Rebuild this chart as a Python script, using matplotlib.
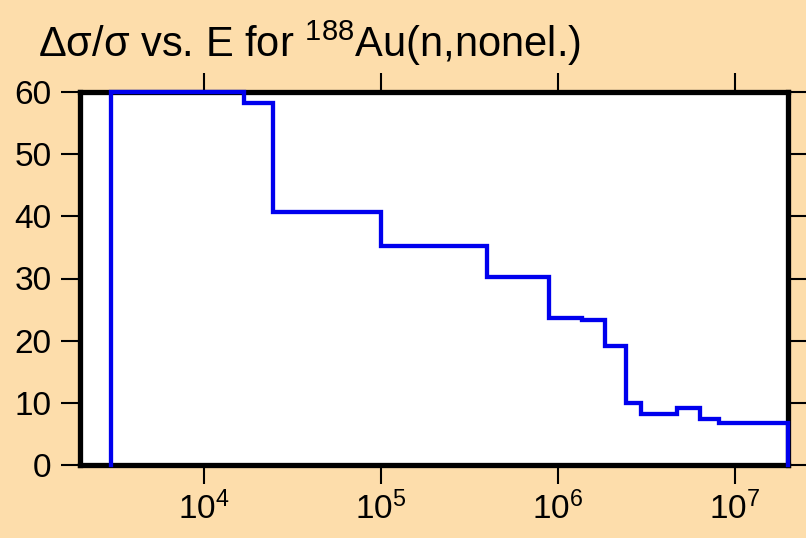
import matplotlib
matplotlib.use("Agg")
import matplotlib.pyplot as plt
import numpy as np

plt.rcParams['font.family'] = ['Liberation Sans', 'DejaVu Sans']
plt.rcParams['mathtext.fontset'] = 'custom'
plt.rcParams['mathtext.rm'] = 'Liberation Sans'
plt.rcParams['mathtext.it'] = 'Liberation Sans'

# Group boundaries (eV) and relative uncertainty (%) in each group
energy_edges = [3.0e3, 1.68e4, 2.47e4, 1.0e5, 4.0e5, 8.9e5, 1.38e6, 1.84e6,
                2.44e6, 2.97e6, 4.75e6, 6.33e6, 8.1e6, 2.0e7]
rel_unc = [60.0, 58.2, 40.75, 35.3, 30.2, 23.6, 23.3, 19.2,
           9.95, 8.15, 9.1, 7.35, 6.8]

x_ticks = [1e4, 1e5, 1e6, 1e7]
y_ticks = [0, 10, 20, 30, 40, 50, 60]

bg = '#FDDDAB'
fig = plt.figure(figsize=(8.06, 5.38), dpi=100, facecolor=bg)
ax = fig.add_axes([80/806, 1-465/538, (788-80)/806, (465-92)/538])
ax.set_facecolor('white')

# histogram outline: start and end at zero
xs = np.repeat(energy_edges, 2)
ys = np.concatenate([[0], np.repeat(rel_unc, 2), [0]])
ax.plot(xs, ys, color='#0000EE', lw=3.1, solid_joinstyle='miter', clip_on=False, zorder=5)

ax.set_xscale('log')
ax.set_xlim(2.0e3, 2.0e7)
ax.set_ylim(0, 60)
ax.set_xticks(x_ticks)
ax.minorticks_off()
ax.set_yticks(y_ticks)

for s in ax.spines.values():
    s.set_linewidth(3.8)
    s.set_color('black')
    s.set_zorder(4)

ax.tick_params(axis='both', direction='out', length=13.5, width=1.5,
               labelsize=24, color='black')
ax.tick_params(axis='x', top=True, pad=6)
ax.tick_params(axis='y', right=True, pad=7)
ax.tick_params(axis='x', which='minor', top=False, bottom=False)

fig.text(38/806, 1-57/538, r'$\Delta\sigma/\sigma$ vs. E for $^{188}$Au(n,nonel.)',
         fontsize=30, ha='left', va='baseline')

fig.savefig('out.png', dpi=100, facecolor=bg)
